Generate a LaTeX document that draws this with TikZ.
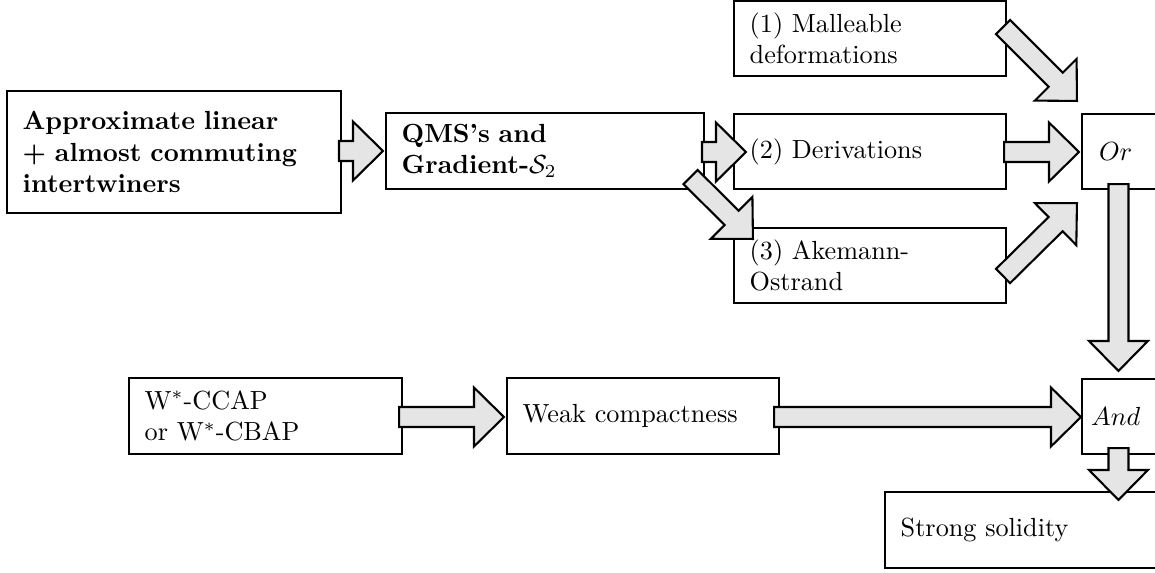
\documentclass[tikz,border=0pt]{standalone}
\usetikzlibrary{calc}
\tikzset{
  box/.style={draw, line width=0.8pt, fill=white, align=left, inner xsep=6pt, inner ysep=2pt},
  barrowstyle/.style={draw, fill=black!10, line width=0.8pt, line join=miter},
}
\def\bashaft{3.82pt}
\def\bahw{11.26pt}
\def\bahl{11.45pt}
\newcommand{\blockarrow}[2]{%
  \coordinate (s) at #1;
  \coordinate (t) at #2;
  \coordinate (h) at ($(t)!\bahl!(s)$);
  \filldraw[barrowstyle] ($(s)!\bashaft!90:(t)$) -- ($(h)!\bashaft!90:(t)$) -- ($(h)!\bahw!90:(t)$) -- (t)
    -- ($(h)!\bahw!-90:(t)$) -- ($(h)!\bashaft!-90:(t)$) -- ($(s)!\bashaft!-90:(t)$) -- cycle;
}
\begin{document}
\begin{tikzpicture}[x=0.38168pt,y=-0.38168pt]
\useasboundingbox (0,0) rectangle (1155,572);
\clip (0,0) rectangle (1155,572);

\node[box, font=\bfseries, minimum width=127.48pt, text width=115.48pt, minimum height=46.57pt] (A) at (174,152)
  {Approximate linear\\+ almost commuting\\intertwiners};
\node[box, font=\bfseries, minimum width=121.37pt, text width=109.37pt, minimum height=29.01pt] (B) at (545,151)
  {QMS's and\\Gradient-$\mathcal{S}_2$};
\node[box, minimum width=103.82pt, text width=91.82pt, minimum height=28.63pt] (M) at (870,38.5)
  {(1) Malleable\\deformations};
\node[box, minimum width=103.82pt, text width=91.82pt, minimum height=28.63pt] (D) at (870,151.5)
  {(2) Derivations};
\node[box, minimum width=103.82pt, text width=91.82pt, minimum height=28.63pt] (K) at (870,265.5)
  {(3) Akemann-\\Ostrand};
\node[box, inner xsep=6.5pt, minimum width=57.25pt, text width=44.25pt, minimum height=28.63pt] (Or) at (1157,151.5)
  {$Or$};
\node[box, inner xsep=3.5pt, minimum width=57.25pt, text width=50.25pt, minimum height=28.63pt] (And) at (1157,416.5)
  {$And$};
\node[box, minimum width=104.2pt, text width=92.2pt, minimum height=29.01pt] (W) at (265.5,416)
  {W$^*$-CCAP\\or W$^*$-CBAP};
\node[box, minimum width=103.82pt, text width=91.82pt, minimum height=29.01pt] (Wk) at (643,416)
  {Weak compactness};
\node[box, minimum width=139.31pt, text width=127.31pt, minimum height=29.01pt] (Str) at (1067.5,530)
  {Strong solidity};

\blockarrow{($(A.east)+(-3,-1)$)}{($(B.west)+(-2,0)$)}
\blockarrow{($(B.east)+(-3,1)$)}{($(D.west)+(13,0.5)$)}
\blockarrow{($(B.south east)+(-14.5,-13)$)}{($(K.north west)+(20,12)$)}
\blockarrow{($(M.east)+(-4,-11.5)$)}{($(Or.north west)+(-4,-12)$)}
\blockarrow{($(D.east)+(-3,0.5)$)}{($(Or.west)+(-2,0.5)$)}
\blockarrow{($(K.east)+(-4,10.5)$)}{($(Or.south west)+(-4,13)$)}
\blockarrow{($(Or.south west)+(37.5,-6)$)}{($(And.north west)+(37.5,-7)$)}
\blockarrow{($(W.east)+(-4,1)$)}{($(Wk.west)+(-2,1)$)}
\blockarrow{($(Wk.east)+(-6,1)$)}{($(And.west)+(0,0.5)$)}
\blockarrow{($(And.south west)+(37.5,-7)$)}{($(Str.north west)+(234.5,9)$)}
\end{tikzpicture}
\end{document}
